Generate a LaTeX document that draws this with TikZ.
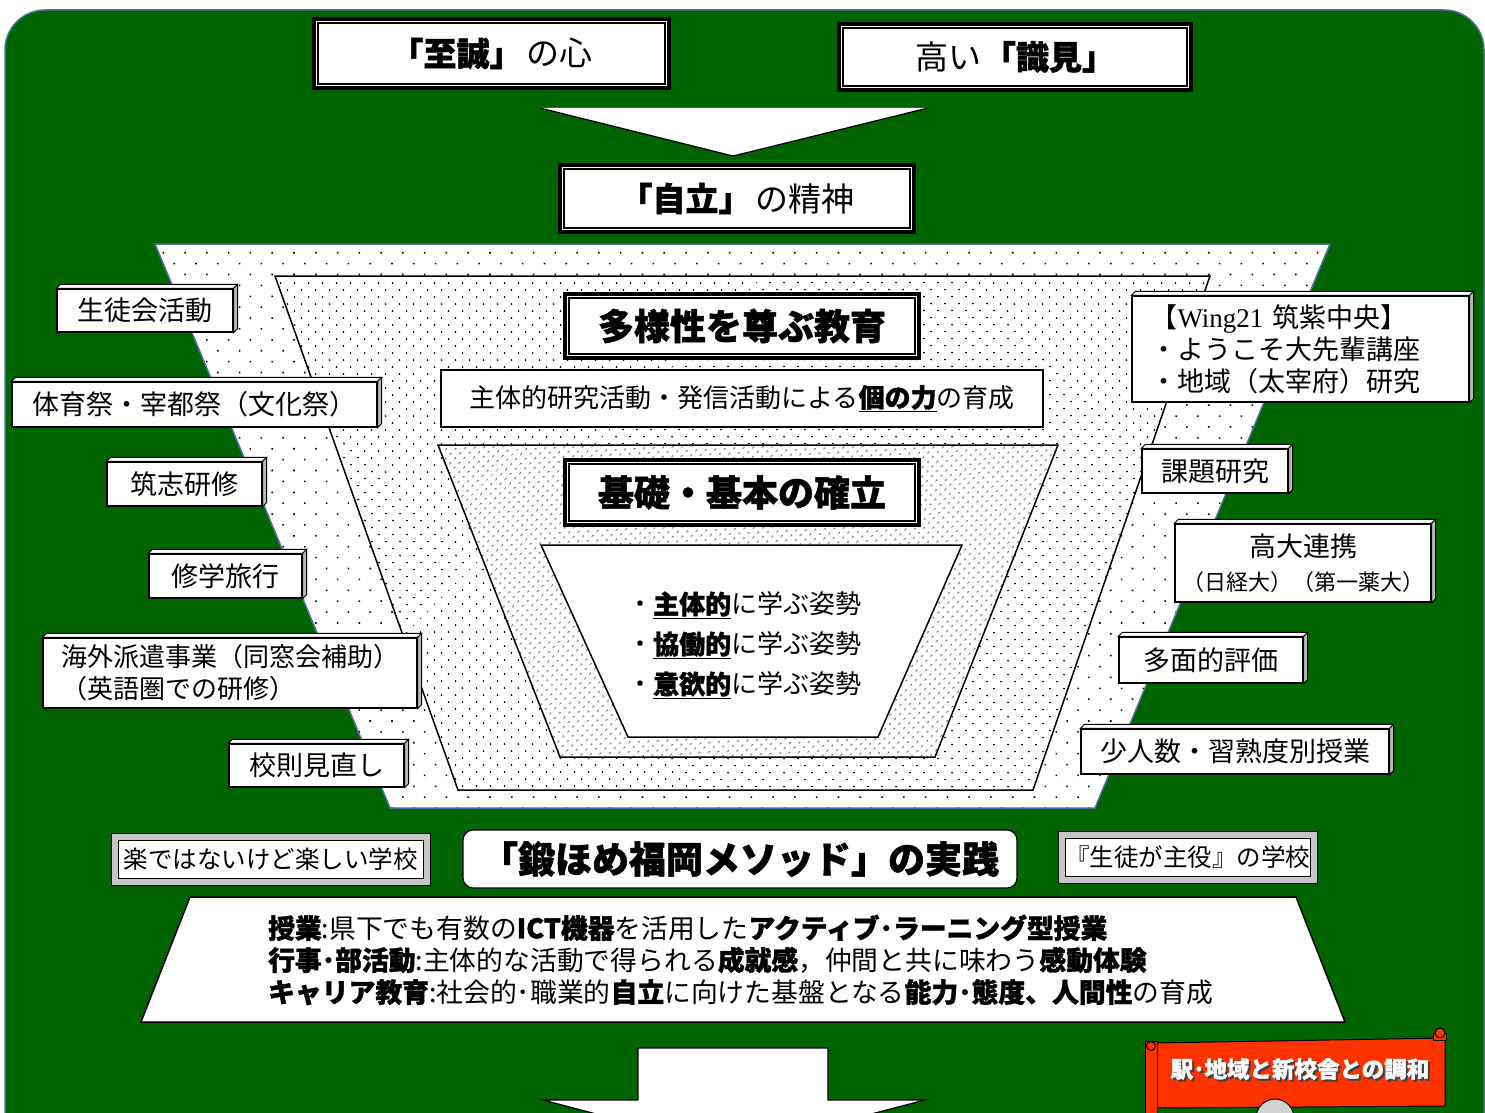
\documentclass[tikz,border=0pt]{standalone}
\usepackage{fontspec}
\setmainfont{Noto Sans CJK JP}[BoldFeatures={FakeBold=1.4}]
\newfontfamily\lserif{Liberation Serif}
\usetikzlibrary{patterns.meta,calc}
\definecolor{bggreen}{RGB}{0,100,0}
\definecolor{edgeblue}{RGB}{79,111,160}
\definecolor{scrollred}{RGB}{255,51,0}
\newcommand\bevelbox[1]{%
 \draw[line width=0.9pt, fill=white] (#1.north west) -- ++(4,-4) -- ($(#1.north east)+(4,-4)$) -- (#1.north east) -- cycle;
 \draw[line width=0.9pt, fill=gray!55] (#1.north east) -- ++(4,-4) -- ($(#1.south east)+(4,-4)$) -- (#1.south east) -- cycle;}
\tikzset{
 dbox/.style={draw=black, line width=1.5pt, fill=white, inner sep=0pt,
   preaction={draw=black, line width=12.5pt},
   preaction={draw=white, line width=4.5pt}},
 lbl/.style={draw=black, line width=1.2pt, fill=white, inner sep=0pt, align=center,
   font=\fontsize{27}{34}\selectfont},
 btn/.style={draw=black, line width=1pt, fill=white, inner sep=0pt,
   preaction={draw=black, line width=15pt},
   preaction={draw=gray!45, line width=13pt},
   font=\fontsize{24.5}{28}\selectfont},
 plainbox/.style={draw=black, line width=1.2pt, fill=white, inner sep=0pt},
 trap/.style={draw=black, line width=1.5pt, preaction={fill=white}},
}
\begin{document}
\begin{tikzpicture}[x=1pt,y=-1pt]
\useasboundingbox (0,0) rectangle (1485,1113);
\fill[white] (0,0) rectangle (1485,1113);
\draw[edgeblue, line width=1.5pt, fill=bggreen, rounded corners=40pt] (5,10) rectangle (1484,1170);

% top boxes
\node[dbox, minimum width=347pt, minimum height=61pt, font=\fontsize{33}{36}\selectfont] (shisei) at (491.5,53.5) {\textbf{「至誠」}\hspace{4pt}の心};
\node[dbox, minimum width=344pt, minimum height=58pt, font=\fontsize{33}{36}\selectfont] (shiken) at (1015,57) {高い\hspace{2pt}\textbf{「識見」}};
\fill[white] (540,108) -- (928,108) -- (733,156) -- cycle;
\draw[line width=1.2pt] (540,108) -- (733,156) -- (928,108);
\node[dbox, minimum width=346pt, minimum height=59pt, font=\fontsize{33}{36}\selectfont] (jiritsu) at (737,198.5) {\textbf{「自立」}\hspace{4pt}の精神};

% trapezoids
\path[draw=edgeblue, line width=1.5pt, preaction={fill=white}, pattern={Dots[distance=15.4pt, angle=45, radius=1.1pt]}]
  (155,244) -- (1330,244) -- (1095,808) -- (390,808) -- cycle;
\path[trap, pattern={Dots[distance=10.5pt, angle=45, radius=1.05pt]}]
  (275,276) -- (1210,276) -- (1033,790) -- (458,790) -- cycle;
\node[dbox, minimum width=346pt, minimum height=56pt, font=\bfseries\fontsize{36}{40}\selectfont] (tayo) at (742,326) {多様性を尊ぶ教育};
\node[plainbox, minimum width=602pt, minimum height=57pt, font=\fontsize{26}{30}\selectfont] (kotai) at (742,398.5) {主体的研究活動・発信活動による\underline{\textbf{個の力}}の育成};
\path[trap, pattern={Dots[distance=6.5pt, angle=45, radius=0.95pt]}]
  (438,445) -- (1058,445) -- (935,757) -- (560,757) -- cycle;
\node[dbox, minimum width=346pt, minimum height=57pt, font=\bfseries\fontsize{36}{40}\selectfont] (kiso) at (742,492.5) {基礎・基本の確立};
\path[trap] (541,545) -- (962,545) -- (878,737) -- (628,737) -- cycle;
\node[anchor=west, align=left, inner sep=0pt, font=\fontsize{26}{40}\selectfont] (attitudes) at (627,645)
  {・\underline{\textbf{主体的}}に学ぶ姿勢\\・\underline{\textbf{協働的}}に学ぶ姿勢\\・\underline{\textbf{意欲的}}に学ぶ姿勢};

% left labels
\node[lbl, minimum width=176pt, minimum height=43pt] (seito) at (145,310.5) {生徒会活動};
\bevelbox{seito}
\node[lbl, minimum width=365pt, minimum height=45pt] (taiiku) at (194.5,404.5) {体育祭・宰都祭（文化祭）};
\bevelbox{taiiku}
\node[lbl, minimum width=155pt, minimum height=44pt] (chikushi) at (184.5,484) {筑志研修};
\bevelbox{chikushi}
\node[lbl, minimum width=153pt, minimum height=44pt] (shugaku) at (225.5,576) {修学旅行};
\bevelbox{shugaku}
\node[lbl, align=left, minimum width=374pt, minimum height=70pt, font=\fontsize{26}{32}\selectfont] (kaigai) at (230,673) {海外派遣事業（同窓会補助）\\（英語圏での研修）};
\bevelbox{kaigai}
\node[lbl, minimum width=175pt, minimum height=43pt] (kosoku) at (316.5,765.5) {校則見直し};
\bevelbox{kosoku}

% right labels
\node[lbl, align=left, text width=300pt, minimum width=337pt, minimum height=106pt, font=\fontsize{27}{32}\selectfont] (wing) at (1300.5,349) {【{\lserif Wing21} 筑紫中央】\\・ようこそ大先輩講座\\・地域（太宰府）研究};
\bevelbox{wing}
\node[lbl, minimum width=146pt, minimum height=44pt] (kadai) at (1215,471) {課題研究};
\bevelbox{kadai}
\node[lbl, minimum width=256pt, minimum height=78pt] (kodai) at (1303,563) {高大連携\\{\fontsize{22}{26}\selectfont （日経大）（第一薬大）}};
\bevelbox{kodai}
\node[lbl, minimum width=184pt, minimum height=46pt] (tamen) at (1211,660) {多面的評価};
\bevelbox{tamen}
\node[lbl, minimum width=308pt, minimum height=45pt] (shonin) at (1235,751.5) {少人数・習熟度別授業};
\bevelbox{shonin}

% bottom row
\node[btn, minimum width=305pt, minimum height=38pt] (raku) at (270.5,859) {楽ではないけど楽しい学校};
\node[draw=black, line width=1.2pt, fill=white, rounded corners=10pt, minimum width=554pt, minimum height=58pt, inner sep=0pt, font=\bfseries\fontsize{37}{40}\selectfont] (method) at (740,859) {「鍛ほめ福岡メソッド」の実践};
\node[btn, minimum width=243pt, minimum height=38pt] (shuyaku) at (1187.5,857) {『生徒が主役』の学校};

\path[draw=black, line width=1.5pt, fill=white] (190,897) -- (1296,897) -- (1345,1022) -- (141,1022) -- cycle;
\node[anchor=west, align=left, inner sep=0pt, font=\fontsize{26.8}{32}\selectfont] (practice) at (268,960)
 {\textbf{授業}:県下でも有数の\textbf{ICT機器}を活用した\textbf{アクティブ･ラーニング型授業}\\
  \textbf{行事･部活動}:主体的な活動で得られる\textbf{成就感}，仲間と共に味わう\textbf{感動体験}\\
  \textbf{キャリア教育}:社会的･職業的\textbf{自立}に向けた基盤となる\textbf{能力･態度、人間性}の育成};

% bottom arrow
\draw[fill=white, line width=1.2pt] (638,1048) -- (828,1048) -- (828,1100) -- (925,1100) -- (733,1150) -- (543,1100) -- (638,1100) -- cycle;

% red scroll banner
\draw[fill=scrollred, line width=1pt] (1155,1043) -- (1445,1038) -- (1445,1106) -- (1155,1108) -- cycle;
\draw[fill=scrollred, line width=1pt] (1145,1041) rectangle (1157,1125);
\draw[fill=scrollred, line width=1pt] (1151,1046) circle (4.5);
\draw[fill=scrollred, line width=1pt] (1433,1033) rectangle (1446,1040);
\draw[fill=scrollred, line width=1pt] (1440,1033) circle (5);
\node[text=black!75, inner sep=0pt, font=\bfseries\fontsize{22.5}{26}\selectfont] (bannershadow) at (1302,1071) {駅･地域と新校舎との調和};
\node[text=white, inner sep=0pt, font=\bfseries\fontsize{22.5}{26}\selectfont] (banner) at (1300,1069) {駅･地域と新校舎との調和};
\draw[fill=gray!35, line width=1pt] (1275,1118) circle (19);
\end{tikzpicture}
\end{document}
